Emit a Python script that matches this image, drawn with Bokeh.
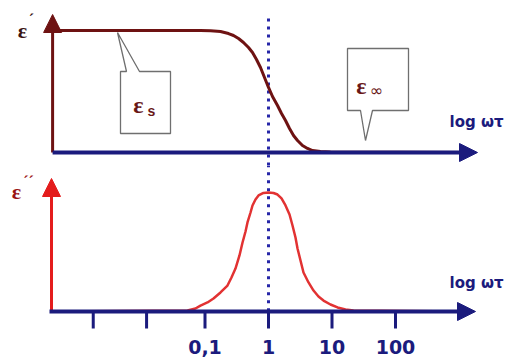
from bokeh.plotting import figure
from bokeh.models import Range1d, Arrow, NormalHead
from bokeh.layouts import column
from bokeh.core.properties import value
from bokeh.embed import file_html
from bokeh.resources import INLINE

# ---- data ----
log_wt_real = [-3.40, -1.071, -0.913, -0.756, -0.630, -0.551, -0.472, -0.394, -0.315,
               -0.252, -0.189, -0.126, -0.063, 0.0, 0.063, 0.142, 0.205, 0.268, 0.331,
               0.394, 0.457, 0.535, 0.614, 0.693, 0.819, 0.976, 3.10]
eps_real = [1.0, 1.0, 0.998, 0.992, 0.975, 0.959, 0.934, 0.902, 0.861,
            0.820, 0.762, 0.697, 0.615, 0.533, 0.459, 0.385, 0.320, 0.262, 0.197,
            0.139, 0.098, 0.057, 0.033, 0.016, 0.008, 0.004, 0.0]

log_wt_loss = [-3.40, -1.276, -1.150, -1.071, -0.961, -0.866, -0.756, -0.646, -0.583,
               -0.520, -0.457, -0.409, -0.362, -0.331, -0.283, -0.252, -0.205, -0.157,
               -0.079, 0.0, 0.079, 0.142, 0.205, 0.268, 0.331, 0.378, 0.425, 0.457,
               0.504, 0.551, 0.630, 0.709, 0.787, 0.866, 0.976, 1.087, 1.213, 1.339, 3.05]
eps_loss = [0.0, 0.008, 0.025, 0.050, 0.076, 0.109, 0.160, 0.218, 0.286,
            0.361, 0.471, 0.580, 0.672, 0.748, 0.832, 0.891, 0.941, 0.975,
            0.996, 1.0, 0.996, 0.983, 0.950, 0.891, 0.815, 0.723, 0.622, 0.529,
            0.429, 0.328, 0.244, 0.176, 0.126, 0.092, 0.059, 0.034, 0.017, 0.008, 0.0]

tick_pos = [-2.76, -1.92, -1, 0, 1, 2]
tick_labels = ["", "", "0,1", "1", "10", "100"]

# ---- styling ----
NAVY = "#1b1b7d"
DOT = "#2626a8"
MAROON = "#6e1212"
RED = "#e23232"
RED_AXIS = "#e41c1c"
GRAY = "#6f6f6f"

W = 511
PX_PER_DEC = 63.5
X0_PX = 268
xr = (-X0_PX / PX_PER_DEC, (W - X0_PX) / PX_PER_DEC)

def mk(h, y0, y1):
    p = figure(width=W, height=h, x_range=Range1d(*xr), y_range=Range1d(y0, y1),
               toolbar_location=None, output_backend="svg",
               x_axis_location=None, y_axis_location=None, min_border=0)
    p.outline_line_color = None
    p.grid.visible = False
    p.background_fill_color = "white"
    p.border_fill_color = "white"
    return p

# top panel: 122 px per unit, zero at 152 px
H1 = 165
S1 = 122.0
Z1 = 152.0
p1 = mk(H1, (Z1 - H1) / S1, Z1 / S1)

def px1(xp, yp):
    return ((xp - X0_PX) / PX_PER_DEC, (Z1 - yp) / S1)

x_left = log_wt_real[0]
p1.add_layout(Arrow(end=NormalHead(size=18, fill_color=MAROON, line_color=MAROON),
                    x_start=x_left, y_start=0, x_end=x_left, y_end=px1(0, 14)[1],
                    line_color=MAROON, line_width=3))
p1.add_layout(Arrow(end=NormalHead(size=18, fill_color=NAVY, line_color=NAVY),
                    x_start=x_left, y_start=0, x_end=px1(477, 0)[0], y_end=0,
                    line_color=NAVY, line_width=4))
p1.segment(x0=[0], y0=[px1(0, 18)[1]], x1=[0], y1=[(Z1 - H1) / S1 - 0.01],
           line_color=DOT, line_width=3, line_dash="3 5")
p1.line(log_wt_real, eps_real, line_color=MAROON, line_width=3, line_join="round")

def callout(p, pts, conv):
    xs, ys = zip(*[conv(a, b) for a, b in pts])
    p.patch(list(xs), list(ys), fill_color="white", line_color=GRAY, line_width=1.3)

callout(p1, [(117, 32), (139, 71), (170, 71), (170, 133), (120, 133), (120, 71), (126, 71)], px1)
callout(p1, [(347, 48), (408, 48), (408, 110), (372, 110), (365, 140), (360, 110), (347, 110)], px1)

def txt(p, pos, s, size, color, font="Liberation Serif", style="bold", align="center"):
    p.text(x=[pos[0]], y=[pos[1]], text=[s], text_font=value(font), text_font_size=size,
           text_font_style=style, text_color=color, text_align=align, text_baseline="middle")

txt(p1, px1(138, 104), "ε", "24px", "#6a1818")
txt(p1, px1(151, 110), "s", "14px", "#6a1818", font="Liberation Sans")
txt(p1, px1(361, 85), "ε", "24px", "#6a1818")
txt(p1, px1(376, 90), "∞", "16px", "#6a1818", font="DejaVu Sans", style="normal")
txt(p1, px1(22, 30), "ε", "22px", "#3a1414")
txt(p1, px1(31, 19), "´", "16px", "#3a1414")
txt(p1, px1(476, 121), "log ωτ", "15px", NAVY, font="DejaVu Sans")

# bottom panel: 119 px per unit, zero at 311 px (global)
H2 = 192
S2 = 119.0
Z2 = 311.0 - H1
p2 = mk(H2, (Z2 - H2) / S2, Z2 / S2)

def px2(xp, yp):
    return ((xp - X0_PX) / PX_PER_DEC, (Z2 - (yp - H1)) / S2)

x_left2 = px2(51, 0)[0]
p2.add_layout(Arrow(end=NormalHead(size=18, fill_color=RED_AXIS, line_color=RED_AXIS),
                    x_start=x_left2, y_start=0, x_end=x_left2, y_end=px2(0, 178)[1],
                    line_color=RED_AXIS, line_width=3))
p2.add_layout(Arrow(end=NormalHead(size=18, fill_color=NAVY, line_color=NAVY),
                    x_start=px2(49, 0)[0], y_start=0, x_end=px2(475, 0)[0], y_end=0,
                    line_color=NAVY, line_width=4))
p2.segment(x0=[0], y0=[Z2 / S2 + 0.01], x1=[0], y1=[0],
           line_color=DOT, line_width=3, line_dash="3 5")
tick_len = px2(0, 328)[1]
p2.segment(x0=tick_pos, y0=[0] * len(tick_pos), x1=tick_pos, y1=[tick_len] * len(tick_pos),
           line_color=NAVY, line_width=3)
p2.line(log_wt_loss, eps_loss, line_color=RED, line_width=2.5, line_join="round")

lab_y = px2(0, 346)[1]
p2.text(x=tick_pos, y=[lab_y] * len(tick_pos), text=tick_labels,
        text_font=value("DejaVu Sans"), text_font_size="19px", text_font_style="bold",
        text_color=NAVY, text_align="center", text_baseline="middle")

txt(p2, px2(16, 191), "ε", "22px", "#9a1414")
txt(p2, px2(28, 181), "´´", "16px", "#9a1414")
txt(p2, px2(476, 282), "log ωτ", "15px", NAVY, font="DejaVu Sans")

layout = column(p1, p2, spacing=0)
open("out.html", "w").write(file_html(layout, INLINE))
